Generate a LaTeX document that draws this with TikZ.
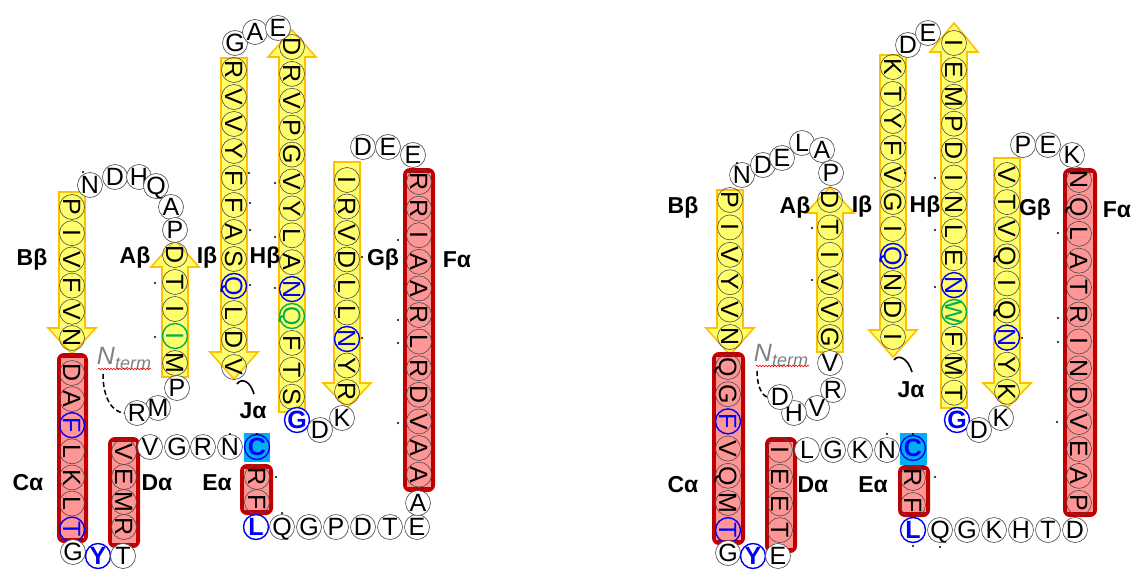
\documentclass[tikz,border=0pt]{standalone}
\usepackage{fontspec}
\setmainfont{Liberation Sans}
\usetikzlibrary{decorations.pathmorphing}
\definecolor{yfill}{RGB}{255,255,110}
\definecolor{orng}{RGB}{255,192,0}
\definecolor{hred}{RGB}{192,0,0}
\definecolor{hpink}{RGB}{255,150,150}
\definecolor{cyanbox}{RGB}{0,176,240}
\definecolor{resblue}{RGB}{0,0,255}
\definecolor{resgreen}{RGB}{0,176,80}
\definecolor{ntgray}{RGB}{128,128,128}
\newcommand\resfont{\fontsize{25}{25}\selectfont}
\newcommand\labfont{\fontsize{23}{23}\selectfont\bfseries}
\newcommand\rt[1]{\makebox[0pt]{\raisebox{-0.358em}[0pt][0pt]{#1}}}
\tikzset{
 res/.style={circle, draw=black!70, line width=0.6pt, minimum size=25pt, inner sep=0pt, font=\resfont},
 vres/.style={res, rotate=-90},
 lres/.style={res, fill=white},
 pl/.style={},
 bl/.style={draw=resblue, text=resblue, line width=1.4pt},
 blb/.style={draw=resblue, text=resblue, line width=1.4pt, font=\resfont\bfseries},
 gn/.style={draw=resgreen, text=resgreen, line width=1.4pt},
 lab/.style={font=\labfont, inner sep=0pt},
 strandfill/.style={fill=yfill, draw=orng, line width=1.6pt, line join=miter},
 ntstyle/.style={text=ntgray, inner sep=0pt, font=\fontsize{25}{25}\selectfont\itshape},
}
\newcommand\strandshape[4]{%
 \path[strandfill] ({#1-13},#2) -- ({#1+13},#2) -- ({#1+13},#3) -- ({#1+24},#3) -- (#1,#4) -- ({#1-24},#3) -- ({#1-13},#3) -- cycle;}
\newcommand\helixbox[4]{%
 \fill[hred, rounded corners=7pt] (#1,#2) rectangle (#3,#4);
 \fill[hpink] ({#1+4},{#2+5}) rectangle ({#3-4},{#4-5});}
\newcommand\rescol[6]{%
 \foreach \rl/\rs [count=\ri] in {#6} \node[#2,\rs] (#1\ri) at (#3,{#4+#5*(\ri-1)}) {\rt{\rl}};}
\newcommand\resloop[2]{%
 \foreach \rl/\rs/\rx/\ry [count=\ri] in {#2} \node[lres,\rs] (#1\ri) at (\rx,\ry) {\rt{\rl}};}
\begin{document}
\begin{tikzpicture}[x=1pt,y=-1pt]
\fill[white] (0,0) rectangle (1132,570);
\useasboundingbox (0,0) rectangle (1132,570);
% ---------- LEFT PANEL ----------
\strandshape{72}{192}{328}{354}
\strandshape{175}{377}{267}{240}
\strandshape{234}{58}{352}{379}
\strandshape{292}{412}{57}{30}
\strandshape{347}{162}{383}{408}
\helixbox{57}{353}{88}{543}
\helixbox{108}{437}{140}{548}
\helixbox{240}{464}{273}{515}
\helixbox{403}{168}{435}{492}
\fill[cyanbox] (244,433) rectangle (270,462);
\rescol{LBb}{vres}{72}{207}{26.2}{P/pl,I/pl,V/pl,F/pl,V/pl,N/pl}
\rescol{LAb}{vres}{175}{255}{27}{D/pl,T/pl,I/pl,I/gn,M/pl}
\rescol{LIb}{vres}{234}{70}{27}{R/pl,V/pl,V/pl,Y/pl,F/pl,F/pl,A/pl,S/pl,Q/bl,L/pl,D/pl,V/pl}
\rescol{LHb}{vres}{292}{47}{26.9}{D/pl,R/pl,V/pl,P/pl,G/pl,V/pl,Y/pl,L/pl,A/pl,N/bl,Q/gn,F/pl,T/pl,S/pl}
\rescol{LGb}{vres}{347}{180}{26.5}{I/pl,R/pl,V/pl,D/pl,L/pl,L/pl,N/bl,Y/pl,R/pl}
\rescol{LFa}{vres}{419}{182}{26.6}{R/pl,R/pl,I/pl,A/pl,A/pl,R/pl,L/pl,R/pl,D/pl,V/pl,A/pl,A/pl}
\rescol{LCa}{vres}{72}{373}{26.1}{D/pl,A/pl,F/bl,L/pl,K/pl,L/pl,T/bl}
\rescol{LDa}{vres}{124}{452}{25}{V/pl,E/pl,M/pl,R/pl}
\rescol{LEa}{vres}{257}{477}{25}{R/pl,F/pl}
\resloop{LLa}{N/pl/90/185,D/pl/115/177,H/pl/139/177,Q/pl/156/186,A/pl/171/207,P/pl/175/230}
\resloop{LLb}{P/pl/177/388,M/pl/158/408,R/pl/137/413}
\resloop{LLc}{G/pl/73/552,Y/blb/98/556,T/pl/123/556}
\resloop{LLd}{V/pl/150/447,G/pl/177/447,R/pl/203/447,N/pl/230/447}
\node[res,blb] (LCys) at (257,447) {\rt{C}};
\resloop{LLe}{L/blb/256/527,Q/pl/282/527,G/pl/309/527,P/pl/336/527,D/pl/363/527,T/pl/390/527,E/pl/417/527,A/pl/418/503}
\resloop{LLf}{D/pl/363/147,E/pl/388/147,E/pl/413/155}
\resloop{LLg}{G/blb/297/420,D/pl/320/430,K/pl/342/418}
\resloop{LLh}{G/pl/235/43,A/pl/255/32,E/pl/278/28}
\foreach \dx/\dy in {83/172,155/283,155/337,249/173,275/183,250/203,250/230,275/237,250/285,275/288,362/257,362/338,398/240,398/320,398/343,398/423,230/434,257/434,276/477,282/513}
  \fill (\dx,\dy) circle (1.2pt);
\node[ntstyle] (LNterm) at (124,358) {N\raisebox{-5pt}{\fontsize{18}{18}\selectfont term}};
\draw[red, line width=0.6pt, decorate, decoration={snake, amplitude=0.8pt, segment length=3pt}] (98,369) -- (151,369);
\coordinate (LNt) at (103,374);
\draw[line width=1.5pt, dash pattern=on 5pt off 3pt] (LNt) .. controls (103,398) and (112,412) .. (LLb3.west);
\coordinate (LJa1) at (237,384);
\coordinate (LJa2) at (254,394);
\draw[line width=1.6pt] (LJa1) .. controls (241,378) and (250,380) .. (LJa2);
\node[lab] (LlBb) at (32,260) {Bβ};
\node[lab] (LlAb) at (135,258) {Aβ};
\node[lab] (LlIb) at (207,258) {Iβ};
\node[lab] (LlHb) at (265,258) {Hβ};
\node[lab] (LlGb) at (383,260) {Gβ};
\node[lab] (LlFa) at (457,260) {Fα};
\node[lab] (LlCa) at (28,483) {Cα};
\node[lab] (LlDa) at (157,483) {Dα};
\node[lab] (LlEa) at (217,483) {Eα};
\node[lab] (LlJa) at (253,411) {Jα};
% ---------- RIGHT PANEL ----------
\strandshape{730}{190}{328}{355}
\strandshape{830}{352}{213}{187}
\strandshape{893}{55}{330}{357}
\strandshape{954}{408}{52}{23}
\strandshape{1007}{158}{383}{408}
\helixbox{712}{352}{745}{545}
\helixbox{765}{437}{797}{553}
\helixbox{898}{465}{930}{517}
\helixbox{1063}{168}{1097}{517}
\fill[cyanbox] (900,433) rectangle (927,465);
\rescol{RBb}{vres}{730}{200}{27.4}{P/pl,I/pl,V/pl,Y/pl,V/pl,N/pl}
\rescol{RAb}{vres}{830}{200}{27.4}{D/pl,T/pl,I/pl,V/pl,V/pl,G/pl}
\rescol{RIb}{vres}{893}{67}{27}{K/pl,T/pl,Y/pl,F/pl,V/pl,G/pl,I/pl,Q/bl,N/pl,D/pl,I/pl}
\rescol{RHb}{vres}{954}{43}{26.9}{I/pl,E/pl,M/pl,P/pl,D/pl,I/pl,N/pl,L/pl,E/pl,N/bl,W/gn,F/pl,M/pl,T/pl}
\rescol{RGb}{vres}{1007}{175}{27.1}{V/pl,T/pl,V/pl,Q/pl,I/pl,Q/pl,N/bl,Y/pl,K/pl}
\rescol{RFa}{vres}{1079}{180}{26.9}{N/pl,Q/pl,L/pl,A/pl,T/pl,R/pl,I/pl,N/pl,D/pl,V/pl,E/pl,A/pl,P/pl}
\rescol{RCa}{vres}{728}{367}{27.2}{Q/pl,G/pl,F/bl,V/pl,Q/pl,M/pl,T/bl}
\rescol{RDa}{vres}{780}{450}{26.7}{I/pl,E/pl,E/pl,T/pl}
\rescol{REa}{vres}{913}{478}{27}{R/pl,F/pl}
\resloop{RLa}{N/pl/742/175,D/pl/763/165,E/pl/782/158,L/pl/802/143,A/pl/822/150,P/pl/831/173}
\resloop{RLb}{V/pl/830/363,R/pl/833/390,V/pl/817/408,H/pl/794/413,D/pl/780/397}
\resloop{RLc}{G/pl/728/553,Y/blb/753/556,E/pl/778/556}
\resloop{RLd}{L/pl/807/450,G/pl/833/450,K/pl/860/450,N/pl/887/450}
\node[res,blb] (RCys) at (913,448) {\rt{C}};
\resloop{RLe}{L/blb/913/530,Q/pl/940/530,G/pl/967/530,K/pl/994/530,H/pl/1021/530,T/pl/1048/530,D/pl/1075/530}
\resloop{RLf}{P/pl/1023/145,E/pl/1048/145,K/pl/1072/155}
\resloop{RLg}{G/blb/957/420,D/pl/979/430,K/pl/1001/418}
\resloop{RLh}{D/pl/908/45,E/pl/928/33}
\foreach \dx/\dy in {737/163,812/228,812/280,905/143,905/173,935/178,935/230,907/255,935/287,1022/338,1058/233,1058/318,1058/342,1057/422,887/434,913/434,935/477,913/546,940/547}
  \fill (\dx,\dy) circle (1.2pt);
\node[ntstyle] (RNterm) at (781,355) {N\raisebox{-5pt}{\fontsize{18}{18}\selectfont term}};
\draw[red, line width=0.6pt, decorate, decoration={snake, amplitude=0.8pt, segment length=3pt}] (756,366) -- (809,366);
\coordinate (RNt) at (757,371);
\draw[line width=1.5pt, dash pattern=on 5pt off 3pt] (RNt) .. controls (757,388) and (763,396) .. (RLb5.west);
\coordinate (RJa1) at (894,360);
\coordinate (RJa2) at (912,372);
\draw[line width=1.6pt] (RJa1) .. controls (898,354) and (908,358) .. (RJa2);
\node[lab] (RlBb) at (683,208) {Bβ};
\node[lab] (RlAb) at (795,208) {Aβ};
\node[lab] (RlIb) at (862,207) {Iβ};
\node[lab] (RlHb) at (925,207) {Hβ};
\node[lab] (RlGb) at (1035,210) {Gβ};
\node[lab] (RlFa) at (1117,210) {Fα};
\node[lab] (RlCa) at (683,485) {Cα};
\node[lab] (RlDa) at (813,485) {Dα};
\node[lab] (RlEa) at (873,485) {Eα};
\node[lab] (RlJa) at (911,390) {Jα};
\end{tikzpicture}
\end{document}
